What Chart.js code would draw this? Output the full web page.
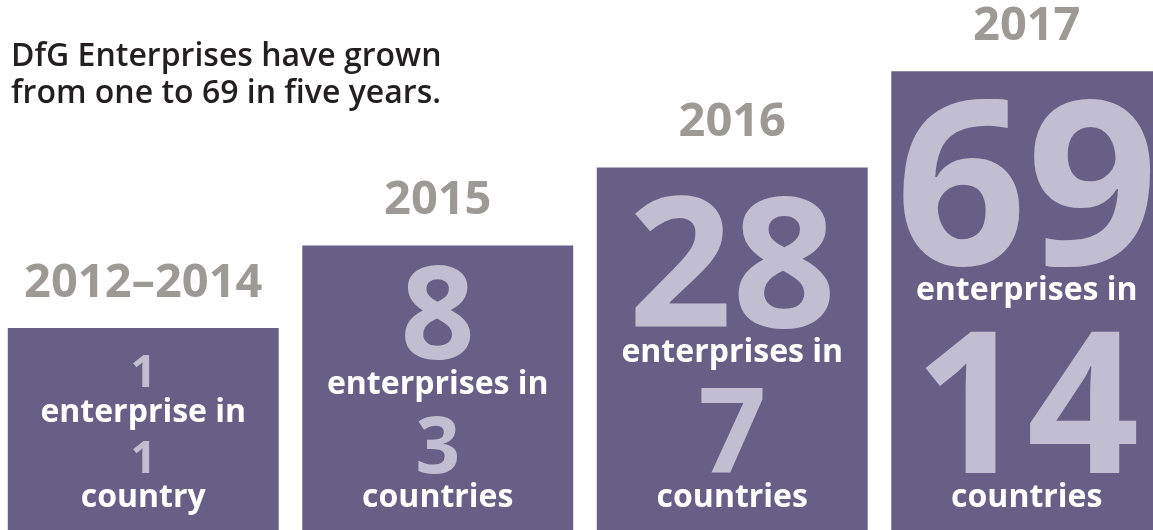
<!DOCTYPE html>
<html>
<head>
<meta charset="utf-8">
<title>DfG Enterprises growth</title>
<script src="https://cdn.jsdelivr.net/npm/chart.js@4"></script>
<style>
  html, body { margin: 0; padding: 0; background: #fff; overflow: hidden; }
  #wrap { position: absolute; left: -4px; top: 0; width: 1178px; height: 530px; }
</style>
</head>
<body>
<div id="wrap"><canvas id="growth"></canvas></div>
<script>
// --- data ---
const periods = ['2012–2014', '2015', '2016', '2017'];
const enterprises = [1, 8, 28, 69];
const countries = [1, 3, 7, 14];
// height of each block, as % of the tallest one
const blockHeight = [44, 62, 79, 100];
const headline = ['DfG Enterprises have grown', 'from one to 69 in five years.'];

// --- styles ---
const PURPLE = '#675f85';
const LAVENDER = '#c1bed1';
const GREY = '#9d9995';
const INK = '#231f20';
const FONT = '"Open Sans", sans-serif';
// big figure sizes inside each block (enterprises on top, countries below)
const topFigureSize = [45, 130, 182, 230];
const lowFigureSize = [45, 78, 119, 197];

// writes the year over each block and the figures inside it
const blockText = {
  id: 'blockText',
  afterDatasetsDraw(chart) {
    const ctx = chart.ctx;
    const bars = chart.getDatasetMeta(0).data;
    ctx.save();
    ctx.textBaseline = 'alphabetic';

    // headline, top left
    ctx.textAlign = 'left';
    ctx.fillStyle = INK;
    ctx.font = `650 32px ${FONT}`;
    headline.forEach((line, k) => ctx.fillText(line, 15, 66 + k * 37));

    ctx.textAlign = 'center';
    bars.forEach((bar, i) => {
      const x = bar.x;

      ctx.fillStyle = GREY;
      ctx.font = `700 47px ${FONT}`;
      ctx.fillText(periods[i], x, bar.y - 31);

      // stack the lines from the bottom of the block upwards
      let y = bar.base - 23;
      ctx.fillStyle = '#fff';
      ctx.font = `700 32px ${FONT}`;
      ctx.fillText(countries[i] === 1 ? 'country' : 'countries', x, y);

      y -= 34;
      ctx.fillStyle = LAVENDER;
      ctx.font = `700 ${lowFigureSize[i]}px ${FONT}`;
      const low = String(countries[i]);
      ctx.fillText(low, x, y);
      // bigger figures get a little more air above them
      y -= ctx.measureText(low).actualBoundingBoxAscent + 16 + lowFigureSize[i] * 0.075;

      ctx.fillStyle = '#fff';
      ctx.font = `700 32px ${FONT}`;
      ctx.fillText(enterprises[i] === 1 ? 'enterprise in' : 'enterprises in', x, y);

      y -= 35;
      ctx.fillStyle = LAVENDER;
      ctx.font = `700 ${topFigureSize[i]}px ${FONT}`;
      ctx.fillText(String(enterprises[i]), x, y);
    });
    ctx.restore();
  }
};

function draw() {
  new Chart(document.getElementById('growth'), {
    type: 'bar',
    data: {
      labels: periods,
      datasets: [{
        data: blockHeight,
        backgroundColor: PURPLE,
        borderWidth: 0,
        barPercentage: 0.92,
        categoryPercentage: 1
      }]
    },
    options: {
      responsive: true,
      maintainAspectRatio: false,
      animation: false,
      layout: { padding: 0 },
      plugins: { legend: { display: false }, tooltip: { enabled: false }, title: { display: false } },
      scales: {
        x: { display: false },
        y: { display: false, min: 0, max: 115.5 }
      }
    },
    plugins: [blockText]
  });
}

document.fonts.load(`700 40px ${FONT}`).then(draw, draw);
</script>
</body>
</html>
